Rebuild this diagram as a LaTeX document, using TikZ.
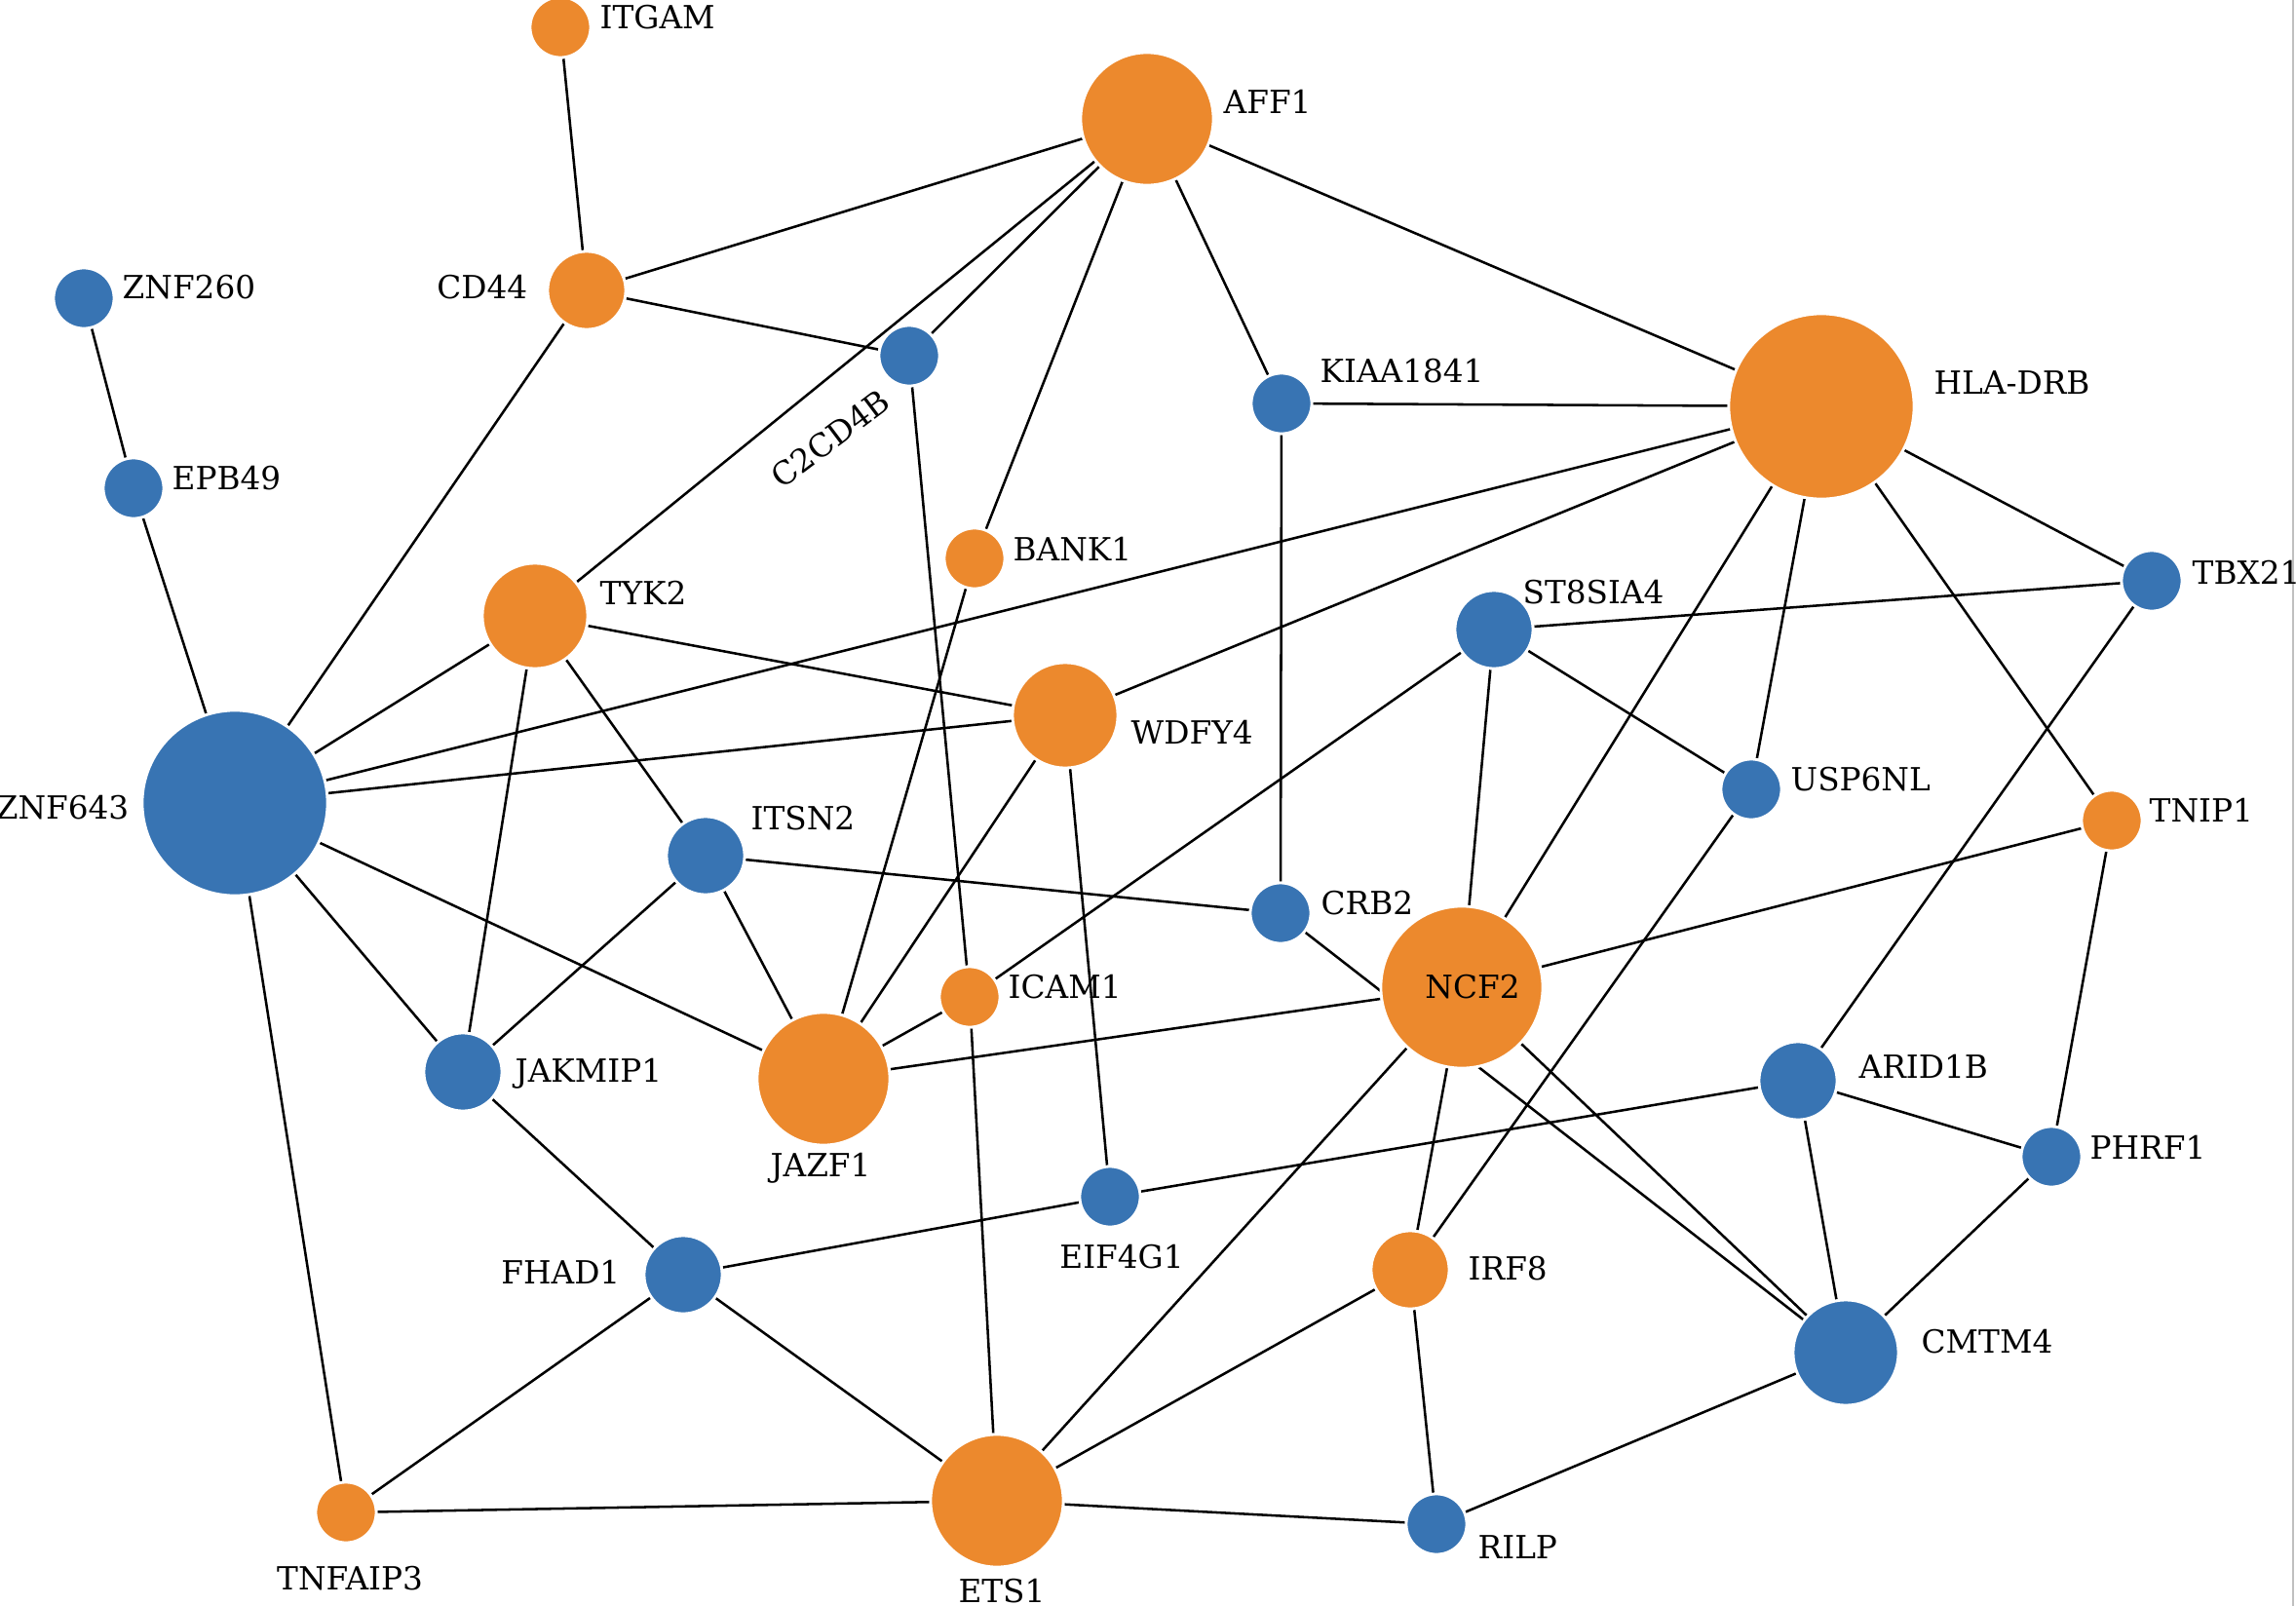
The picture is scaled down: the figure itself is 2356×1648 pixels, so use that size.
\documentclass[tikz,border=0pt]{standalone}
\usepackage{fontspec}
\setmainfont{DejaVu Serif}
\definecolor{nodeorange}{RGB}{236,137,45}
\definecolor{nodeblue}{RGB}{56,116,179}
\pgfdeclarelayer{paper}
\pgfdeclarelayer{edges}
\pgfsetlayers{paper,edges,main}
\begin{document}
\begin{tikzpicture}[x=0.01cm,y=-0.01cm,
  gene/.style={circle,inner sep=0pt,draw=white,line width=0.8pt},
  og/.style={gene,fill=nodeorange},
  bg/.style={gene,fill=nodeblue},
  sA/.style={minimum size=0.62cm},
  sB/.style={minimum size=0.80cm},
  sC/.style={minimum size=1.08cm},
  sD/.style={minimum size=1.36cm},
  sE/.style={minimum size=1.66cm},
  sF/.style={minimum size=1.90cm},
  lab/.style={inner sep=0pt,text=black,font=\fontsize{9.3}{11}\selectfont},
  edge/.style={line width=0.72pt,draw=black}]
\useasboundingbox (0,0) rectangle (2356,1648);
\begin{pgfonlayer}{paper}
\fill[white] (0,0) rectangle (2356,1648);
\draw[black!25,line width=0.5pt] (2353,0) -- (2353,1648);
\end{pgfonlayer}
% nodes
\node[og,sA] (ITGAM) at (575,28) {};
\node[og,sD] (AFF1) at (1177,122) {};
\node[og,sB] (CD44) at (602,298) {};
\node[bg,sA] (ZNF260) at (86,306) {};
\node[bg,sA] (C2CD4B) at (933,365) {};
\node[bg,sA] (KIAA1841) at (1315,414) {};
\node[og,sF] (HLA) at (1869,417) {};
\node[bg,sA] (EPB49) at (137,501) {};
\node[og,sA] (BANK1) at (1000,573) {};
\node[og,sC] (TYK2) at (549,632) {};
\node[bg,sA] (TBX21) at (2208,596) {};
\node[bg,sB] (ST8SIA4) at (1533,646) {};
\node[og,sC] (WDFY4) at (1093,734) {};
\node[bg,sF] (ZNF643) at (241,824) {};
\node[bg,sA] (USP6NL) at (1797,810) {};
\node[og,sA] (TNIP1) at (2167,842) {};
\node[bg,sB] (ITSN2) at (724,878) {};
\node[bg,sA] (CRB2) at (1314,937) {};
\node[og,sE] (NCF2) at (1500,1013) {};
\node[og,sA] (ICAM1) at (995,1023) {};
\node[bg,sB] (JAKMIP1) at (475,1100) {};
\node[og,sD] (JAZF1) at (845,1107) {};
\node[bg,sB] (ARID1B) at (1845,1109) {};
\node[bg,sA] (PHRF1) at (2105,1187) {};
\node[bg,sA] (EIF4G1) at (1139,1228) {};
\node[bg,sB] (FHAD1) at (701,1308) {};
\node[og,sB] (IRF8) at (1447,1303) {};
\node[bg,sC] (CMTM4) at (1894,1388) {};
\node[og,sA] (TNFAIP3) at (355,1552) {};
\node[og,sD] (ETS1) at (1023,1540) {};
\node[bg,sA] (RILP) at (1474,1564) {};
% labels
\node[lab,anchor=west] (ITGAM-l) at (615,18) {ITGAM};
\node[lab,anchor=west] (AFF1-l) at (1255,104) {AFF1};
\node[lab,anchor=east] (CD44-l) at (542,295) {CD44};
\node[lab,anchor=west] (ZNF260-l) at (125,295) {ZNF260};
\node[lab,rotate=37] (C2CD4B-l) at (852,450) {C2CD4B};
\node[lab,anchor=west] (KIAA1841-l) at (1354,381) {KIAA1841};
\node[lab,anchor=west] (HLA-l) at (1984,393) {HLA-DRB};
\node[lab,anchor=west] (EPB49-l) at (176,491) {EPB49};
\node[lab,anchor=west] (BANK1-l) at (1039,564) {BANK1};
\node[lab,anchor=west] (TYK2-l) at (615,608) {TYK2};
\node[lab,anchor=west] (TBX21-l) at (2249,587) {TBX21};
\node[lab,anchor=west] (ST8SIA4-l) at (1562,608) {ST8SIA4};
\node[lab,anchor=west] (WDFY4-l) at (1160,751) {WDFY4};
\node[lab,anchor=east] (ZNF643-l) at (133,829) {ZNF643};
\node[lab,anchor=west] (USP6NL-l) at (1837,800) {USP6NL};
\node[lab,anchor=west] (TNIP1-l) at (2205,832) {TNIP1};
\node[lab,anchor=west] (ITSN2-l) at (770,840) {ITSN2};
\node[lab,anchor=west] (CRB2-l) at (1355,927) {CRB2};
\node[lab] (NCF2-l) at (1511,1013) {NCF2};
\node[lab,anchor=west] (ICAM1-l) at (1034,1013) {ICAM1};
\node[lab,anchor=west] (JAKMIP1-l) at (528,1102) {JAKMIP1};
\node[lab] (JAZF1-l) at (842,1199) {JAZF1};
\node[lab,anchor=west] (ARID1B-l) at (1907,1094) {ARID1B};
\node[lab,anchor=west] (PHRF1-l) at (2144,1177) {PHRF1};
\node[lab] (EIF4G1-l) at (1151,1290) {EIF4G1};
\node[lab,anchor=east] (FHAD1-l) at (637,1305) {FHAD1};
\node[lab,anchor=west] (IRF8-l) at (1506,1302) {IRF8};
\node[lab,anchor=west] (CMTM4-l) at (1971,1377) {CMTM4};
\node[lab] (TNFAIP3-l) at (359,1620) {TNFAIP3};
\node[lab] (ETS1-l) at (1028,1633) {ETS1};
\node[lab,anchor=west] (RILP-l) at (1516,1588) {RILP};
% edges
\begin{pgfonlayer}{edges}
\draw[edge] (ITGAM) -- (CD44);
\draw[edge] (CD44) -- (AFF1);
\draw[edge] (CD44) -- (C2CD4B);
\draw[edge] (CD44) -- (ZNF643);
\draw[edge] (ZNF260) -- (EPB49);
\draw[edge] (EPB49) -- (ZNF643);
\draw[edge] (AFF1) -- (HLA);
\draw[edge] (AFF1) -- (KIAA1841);
\draw[edge] (AFF1) -- (BANK1);
\draw[edge] (AFF1) -- (C2CD4B);
\draw[edge] (AFF1) -- (TYK2);
\draw[edge] (C2CD4B) -- (ICAM1);
\draw[edge] (KIAA1841) -- (HLA);
\draw[edge] (KIAA1841) -- (CRB2);
\draw[edge] (HLA) -- (ZNF643);
\draw[edge] (HLA) -- (WDFY4);
\draw[edge] (HLA) -- (TBX21);
\draw[edge] (HLA) -- (TNIP1);
\draw[edge] (HLA) -- (USP6NL);
\draw[edge] (HLA) -- (NCF2);
\draw[edge] (TYK2) -- (ZNF643);
\draw[edge] (TYK2) -- (WDFY4);
\draw[edge] (TYK2) -- (ITSN2);
\draw[edge] (TYK2) -- (JAKMIP1);
\draw[edge] (ZNF643) -- (WDFY4);
\draw[edge] (ZNF643) -- (JAKMIP1);
\draw[edge] (ZNF643) -- (JAZF1);
\draw[edge] (ZNF643) -- (TNFAIP3);
\draw[edge] (WDFY4) -- (JAZF1);
\draw[edge] (WDFY4) -- (EIF4G1);
\draw[edge] (ST8SIA4) -- (TBX21);
\draw[edge] (ST8SIA4) -- (USP6NL);
\draw[edge] (ST8SIA4) -- (NCF2);
\draw[edge] (ST8SIA4) -- (ICAM1);
\draw[edge] (ICAM1) -- (JAZF1);
\draw[edge] (ITSN2) -- (CRB2);
\draw[edge] (ITSN2) -- (JAKMIP1);
\draw[edge] (ITSN2) -- (JAZF1);
\draw[edge] (CRB2) -- (CMTM4);
\draw[edge] (NCF2) -- (JAZF1);
\draw[edge] (NCF2) -- (TNIP1);
\draw[edge] (NCF2) -- (IRF8);
\draw[edge] (NCF2) -- (ETS1);
\draw[edge] (NCF2) -- (CMTM4);
\draw[edge] (TBX21) -- (ARID1B);
\draw[edge] (TNIP1) -- (PHRF1);
\draw[edge] (USP6NL) -- (IRF8);
\draw[edge] (ARID1B) -- (EIF4G1);
\draw[edge] (EIF4G1) -- (FHAD1);
\draw[edge] (ARID1B) -- (PHRF1);
\draw[edge] (ARID1B) -- (CMTM4);
\draw[edge] (PHRF1) -- (CMTM4);
\draw[edge] (CMTM4) -- (RILP);
\draw[edge] (IRF8) -- (RILP);
\draw[edge] (IRF8) -- (ETS1);
\draw[edge] (ETS1) -- (RILP);
\draw[edge] (ETS1) -- (TNFAIP3);
\draw[edge] (ETS1) -- (FHAD1);
\draw[edge] (ICAM1) -- (ETS1);
\draw[edge] (FHAD1) -- (TNFAIP3);
\draw[edge] (FHAD1) -- (JAKMIP1);
\draw[edge] (BANK1) -- (JAZF1);
\end{pgfonlayer}
\end{tikzpicture}
\end{document}
